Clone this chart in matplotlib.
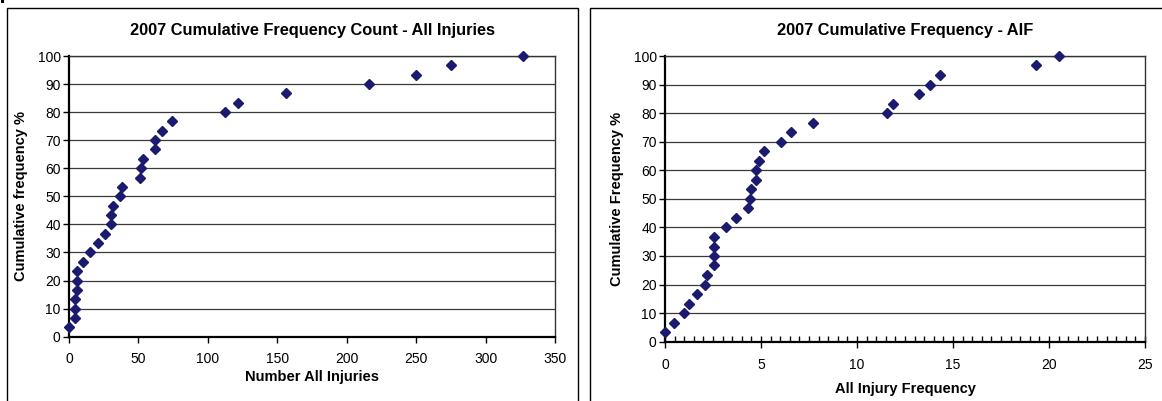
import matplotlib
matplotlib.use("Agg")
import matplotlib.pyplot as plt
from matplotlib.patches import Rectangle
from matplotlib.ticker import MultipleLocator

plt.rcParams['font.family'] = ['Liberation Sans', 'DejaVu Sans']

cum_freq = [3.3, 6.7, 10, 13.3, 16.7, 20, 23.3, 26.7, 30, 33.3, 36.7, 40, 43.3, 46.7, 50,
            53.3, 56.7, 60, 63.3, 66.7, 70, 73.3, 76.7, 80, 83.3, 86.7, 90, 93.3, 96.7, 100]
num_injuries = [0, 4, 4, 4, 6, 6, 6, 10, 15, 21, 26, 30, 30, 32, 37,
                38, 51, 52, 53, 62, 62, 67, 74, 112, 122, 156, 216, 250, 275, 327]
cum_freq_aif = [3.3, 6.7, 10, 13.3, 16.7, 20, 23.3, 26.7, 30, 33.3, 36.7, 40, 43.3, 46.7, 50,
                53.3, 56.7, 60, 63.3, 66.7, 70, 73.3, 76.7, 80, 83.3, 86.7, 90, 93.3, 96.7, 100]
aif = [0, 0.47, 0.97, 1.23, 1.68, 2.08, 2.2, 2.55, 2.55, 2.55, 2.55, 3.18, 3.7, 4.31, 4.43,
       4.5, 4.76, 4.76, 4.88, 5.14, 6.04, 6.58, 7.69, 11.58, 11.86, 13.21, 13.8, 14.32, 19.32, 20.52]

W, H = 1162, 401
fig = plt.figure(figsize=(W / 100, H / 100), dpi=100)
fig.patch.set_facecolor('white')

def fx(px):
    return px / W

def fy(py):
    return 1 - py / H

# outer chart borders
fig.add_artist(Rectangle((fx(7), fy(420)), fx(578 - 7), (420 - 8) / H, transform=fig.transFigure,
                         fill=False, edgecolor='black', lw=1.0))
fig.add_artist(Rectangle((fx(590), fy(420)), fx(1175 - 590), (420 - 8) / H, transform=fig.transFigure,
                         fill=False, edgecolor='black', lw=1.0))
fig.add_artist(Rectangle((fx(1), fy(3)), fx(3), 3 / H, transform=fig.transFigure,
                         fill=True, facecolor='black', edgecolor='none'))

marker_color = '#1a1a6e'
fs = 10
lfs = 10.5
tfs = 11.8

def style(ax):
    for s in ['left', 'bottom']:
        ax.spines[s].set_color('black')
        ax.spines[s].set_linewidth(1.6)
    for s in ['top', 'right']:
        ax.spines[s].set_color('#333333')
        ax.spines[s].set_linewidth(1.0)
    ax.set_ylim(0, 100)
    ax.yaxis.set_major_locator(MultipleLocator(10))
    ax.grid(axis='y', color='#3a3a3a', lw=0.9)
    ax.set_axisbelow(True)
    ax.tick_params(axis='both', labelsize=fs, direction='out', length=4, width=1, colors='black')
    ax.tick_params(axis='y', pad=2)

# Left chart
ax1 = fig.add_axes([fx(69), fy(336.7), fx(555 - 69), (336.7 - 56) / H])
ax1.plot(num_injuries, cum_freq, linestyle='none', marker='D', ms=5.2,
         color=marker_color, clip_on=False, zorder=5)
ax1.set_xlim(0, 350)
ax1.xaxis.set_major_locator(MultipleLocator(50))
style(ax1)
ax1.tick_params(axis='x', pad=7)
ax1.set_title('2007 Cumulative Frequency Count - All Injuries', fontsize=tfs, fontweight='bold', pad=15)
ax1.set_xlabel('Number All Injuries', fontsize=lfs, fontweight='bold', labelpad=3)
ax1.set_ylabel('Cumulative frequency %', fontsize=lfs, fontweight='bold', labelpad=7)

# Right chart
ax2 = fig.add_axes([fx(665), fy(341.7), fx(1145 - 665), (341.7 - 56) / H])
ax2.plot(aif, cum_freq_aif, linestyle='none', marker='D', ms=5.2,
         color=marker_color, clip_on=False, zorder=5)
ax2.set_xlim(0, 25)
ax2.xaxis.set_major_locator(MultipleLocator(5))
ax2.xaxis.set_minor_locator(MultipleLocator(0.5))
style(ax2)
ax2.tick_params(axis='x', which='major', direction='inout', length=8, pad=8)
ax2.tick_params(axis='x', which='minor', direction='in', length=4, width=1)
ax2.set_title('2007 Cumulative Frequency - AIF', fontsize=tfs, fontweight='bold', pad=15)
ax2.set_xlabel('All Injury Frequency', fontsize=lfs, fontweight='bold', labelpad=7)
ax2.set_ylabel('Cumulative Frequency %', fontsize=lfs, fontweight='bold', labelpad=7)

fig.savefig('out.png', dpi=100, facecolor='white')
